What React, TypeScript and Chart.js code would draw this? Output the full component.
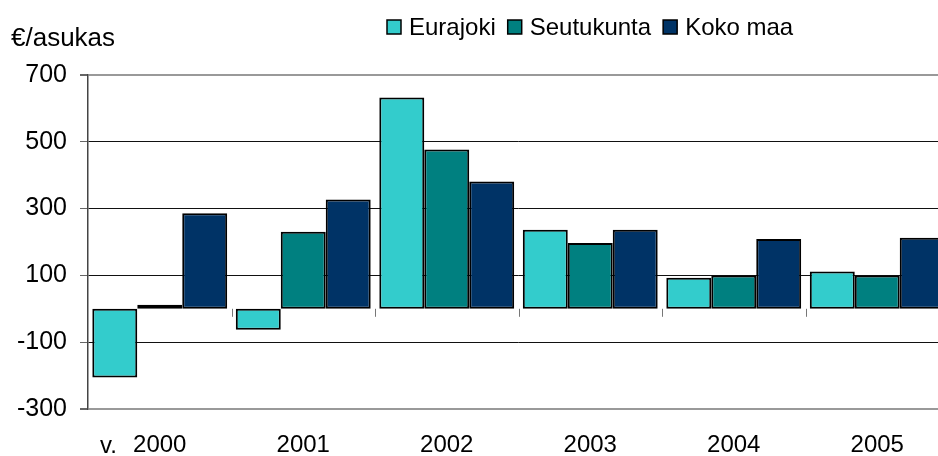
import React, { useEffect, useRef } from "react";
import { Chart, registerables } from "chart.js";

Chart.register(...registerables);

const categories = ["2000", "2001", "2002", "2003", "2004", "2005"];
const firstPrefix = "v.";
const yUnit = "€/asukas";
const eurajoki = [-206, -63, 633, 237, 93, 112];
const seutukunta = [12, 231, 477, 197, 100, 100];
const kokoMaa = [286, 327, 381, 237, 209, 213];
const seriesNames = ["Eurajoki", "Seutukunta", "Koko maa"];
const seriesColors = ["#33CCCC", "#008080", "#003366"];
const yMin = -300;
const yMax = 700;
const yStep = 200;

const FONT = "'Liberation Sans', Arial, sans-serif";

const decorPlugin = {
  id: "decor",
  afterDraw(chart: any) {
    const ctx = chart.ctx;
    const xs = chart.scales.x;
    const ys = chart.scales.y;
    ctx.save();
    // unit label
    ctx.fillStyle = "#000";
    ctx.font = `26px ${FONT}`;
    ctx.textBaseline = "alphabetic";
    ctx.textAlign = "left";
    ctx.fillText(yUnit, 11, 46);

    // legend
    ctx.font = `24px ${FONT}`;
    let x = 387;
    const boxSize = 14;
    const cy = 27;
    chart.data.datasets.forEach((ds: any) => {
      ctx.fillStyle = ds.backgroundColor;
      ctx.fillRect(x, cy - boxSize / 2, boxSize, boxSize);
      ctx.strokeStyle = "#000";
      ctx.lineWidth = 1.5;
      ctx.strokeRect(x, cy - boxSize / 2, boxSize, boxSize);
      ctx.fillStyle = "#000";
      ctx.textBaseline = "middle";
      ctx.fillText(ds.label, x + boxSize + 8, cy + 1);
      x += boxSize + 8 + ctx.measureText(ds.label).width + 12;
    });

    // prefix before first category
    ctx.textBaseline = "alphabetic";
    ctx.textAlign = "right";
    ctx.fillText(firstPrefix, 117, 453);

    // small ticks on zero line between categories
    const y0 = ys.getPixelForValue(0);
    ctx.strokeStyle = "#777";
    ctx.lineWidth = 1;
    for (let i = 1; i < categories.length; i++) {
      const bx = Math.round((xs.getPixelForValue(i - 1) + xs.getPixelForValue(i)) / 2) + 0.5;
      ctx.beginPath();
      ctx.moveTo(bx, y0);
      ctx.lineTo(bx, y0 + 8);
      ctx.stroke();
    }
    ctx.restore();
  },
};

export default function App() {
  const ref = useRef<HTMLCanvasElement | null>(null);
  useEffect(() => {
    if (!ref.current) return;
    const seriesData = [eurajoki, seutukunta, kokoMaa];
    const chart = new Chart(ref.current, {
      type: "bar",
      data: {
        labels: categories,
        datasets: seriesNames.map((name, i) => ({
          label: name,
          data: seriesData[i],
          backgroundColor: seriesColors[i],
          borderColor: "#000",
          borderWidth: 2,
          borderSkipped: false,
          categoryPercentage: 0.94,
          barPercentage: 1,
        })),
      },
      options: {
        responsive: false,
        animation: false,
        layout: { padding: { top: 75, right: 1, bottom: 0, left: 0 } },
        plugins: {
          legend: { display: false },
          tooltip: { enabled: false },
        },
        scales: {
          x: {
            grid: { display: false, drawTicks: false },
            border: { display: false },
            ticks: {
              color: "#000",
              font: { family: FONT, size: 24 },
              padding: 22,
              maxRotation: 0,
            },
            afterFit: (axis: any) => {
              axis.height = 47;
            },
          },
          y: {
            min: yMin,
            max: yMax,
            ticks: {
              stepSize: yStep,
              color: "#000",
              font: { family: FONT, size: 25 },
              padding: 13,
            },
            grid: {
              color: (c: any) =>
                c.tick && (c.tick.value === yMax || c.tick.value === yMin) ? "#999" : "#111",
              lineWidth: (c: any) =>
                c.tick && (c.tick.value === yMax || c.tick.value === yMin) ? 2 : 1,
              tickColor: "#666",
              tickLength: 8,
            },
            border: { color: "#444", width: 1.5 },
            afterFit: (axis: any) => {
              axis.width = 88;
            },
          },
        },
      },
      plugins: [decorPlugin],
    });
    return () => chart.destroy();
  }, []);

  return (
    <div
      style={{
        position: "fixed",
        left: 0,
        top: 0,
        width: 938,
        height: 456,
        overflow: "hidden",
        background: "#fff",
      }}
    >
      <canvas ref={ref} width={950} height={456} style={{ display: "block" }} />
    </div>
  );
}
